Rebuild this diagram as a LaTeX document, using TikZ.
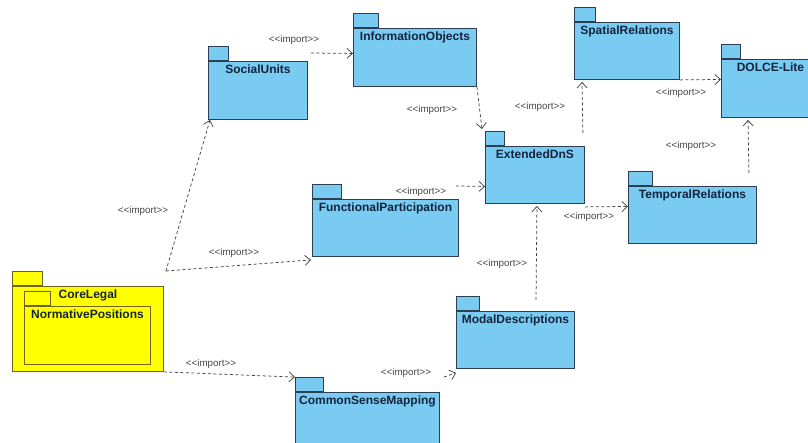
\documentclass[tikz,border=0pt]{standalone}
\usepackage{fontspec}
\setmainfont{Liberation Sans}
\usetikzlibrary{arrows.meta}
\definecolor{pkgblue}{RGB}{122,203,242}
\definecolor{pkgline}{RGB}{45,62,82}
\definecolor{pkgtext}{RGB}{20,35,60}
\definecolor{pkgyellow}{RGB}{255,255,0}
\definecolor{yelline}{RGB}{110,100,20}
\definecolor{impgray}{RGB}{70,70,70}
\newcommand\imptext{<\kern0pt<import>\kern0pt>}

\begin{document}
\begin{tikzpicture}[x=1pt,y=-1pt,
body/.style={%
draw=pkgline,
fill=pkgblue,
line width=0.9pt,
anchor=north west,
inner sep=0pt,
minimum height=58pt,
},
tab/.style={%
body,
anchor=south west,
minimum height=14pt,
},
legal/.style={%
draw=yelline,
fill=pkgyellow,
},
title/.style={%
font={\bfseries\color{pkgtext}\fontsize{12pt}{14}\selectfont},
anchor=north,
inner sep=0pt,
yshift=-3.5pt,
text height=9pt,
text depth=2.5pt,
},
imp/.style={%
font={\color{impgray}\fontsize{9.8pt}{11}\selectfont},
inner sep=1pt,
},
dep/.style={%
draw=impgray,
dash pattern=on 3pt off 2.5pt,
line width=0.75pt,
-{Straight Barb[length=5.5pt,width=10pt]},
}
]
\useasboundingbox (0,0) rectangle (808,443);
\fill[white] (0,0) rectangle (808,443);
\clip (0,0) rectangle (808,443);

%CoreLegal
\node[body,legal,minimum width=151pt,minimum height=85pt] (cl) at (12,286) {};
\node[tab,legal,minimum width=30pt] (cl-tab) at (cl.north west) {};
\node[title] (cl-t) at (cl.north) {CoreLegal};
\node[body,legal,minimum width=126pt] (np) at (24,306) {};
\node[tab,legal,minimum width=26pt] (np-tab) at (np.north west) {};
\node[title] (np-t) at (np.north) {NormativePositions};

%SocialUnits
\node[body,minimum width=99pt] (su) at (208,61) {};
\node[tab,minimum width=20pt] (su-tab) at (su.north west) {};
\node[title] (su-t) at (su.north) {SocialUnits};

%InformationObjects
\node[body,minimum width=123pt] (io) at (353,28) {};
\node[tab,minimum width=25pt] (io-tab) at (io.north west) {};
\node[title] (io-t) at (io.north) {InformationObjects};

%ExtendedDnS
\node[body,minimum width=99pt,minimum height=57pt] (ed) at (485,146) {};
\node[tab,minimum width=19pt] (ed-tab) at (ed.north west) {};
\node[title] (ed-t) at (ed.north) {ExtendedDnS};

%SpatialRelations
\node[body,minimum width=105pt,minimum height=57pt] (sr) at (574,22) {};
\node[tab,minimum width=21pt] (sr-tab) at (sr.north west) {};
\node[title] (sr-t) at (sr.north) {SpatialRelations};

%DOLCE-Lite
\node[body,minimum width=98pt] (dl) at (721,59) {};
\node[tab,minimum width=19pt] (dl-tab) at (dl.north west) {};
\node[title] (dl-t) at (dl.north) {DOLCE-Lite};

%TemporalRelations
\node[body,minimum width=128pt,minimum height=57pt] (tr) at (628,186) {};
\node[tab,minimum width=24pt] (tr-tab) at (tr.north west) {};
\node[title] (tr-t) at (tr.north) {TemporalRelations};

%FunctionalParticipation
\node[body,minimum width=146pt,minimum height=57pt] (fp) at (312,199) {};
\node[tab,minimum width=29pt] (fp-tab) at (fp.north west) {};
\node[title] (fp-t) at (fp.north) {FunctionalParticipation};

%ModalDescriptions
\node[body,minimum width=118pt,minimum height=57pt] (md) at (456,311) {};
\node[tab,minimum width=23pt] (md-tab) at (md.north west) {};
\node[title] (md-t) at (md.north) {ModalDescriptions};

%CommonSenseMapping
\node[body,minimum width=144pt] (cs) at (295,392) {};
\node[tab,minimum width=28pt] (cs-tab) at (cs.north west) {};
\node[title] (cs-t) at (cs.north) {CommonSenseMapping};

%imports
\coordinate (cl-out) at ([shift={(2pt,15pt)}]cl.north east);
\draw[dep] (cl-out) -- ([xshift=2pt]su.south west);
\draw[dep] (cl-out) -- ([shift={(-1pt,-3pt)}]fp.south west);
\draw[dep] (cl.south east) -- (cs-tab.north west);
\draw[dep] ([shift={(4pt,15pt)}]cs.north east) -- ([yshift=-4pt]md.south west);
\draw[dep] ([shift={(3pt,8pt)}]su.north east) -- ([yshift=4pt]io.west);
\draw[dep] (io.south east) -- ([shift={(-3pt,2pt)}]ed-tab.north west);
\draw[dep] ([shift={(-3pt,13pt)}]fp.north east) -- ([yshift=-11.5pt]ed.west);
\draw[dep] ([shift={(80pt,11pt)}]md.north west) -- ([shift={(2pt,-2pt)}]ed.south);
\draw[dep] ([shift={(-2pt,13pt)}]ed.north east) -- ([shift={(8pt,-2pt)}]sr.south west);
\draw[dep] ([yshift=-3pt]ed.south east) -- ([yshift=8.5pt]tr.west);
\draw[dep] (sr.south east) -- ([yshift=9pt]dl.west);
\draw[dep] ([shift={(-8pt,13pt)}]tr.north east) -- ([shift={(27pt,-2pt)}]dl.south west);

%labels
\node[imp] (i-su-io) at (294,40) {\imptext};
\node[imp] (i-io-ed) at (432,110) {\imptext};
\node[imp] (i-ed-sr) at (540,107) {\imptext};
\node[imp] (i-sr-dl) at (681,93) {\imptext};
\node[imp] (i-tr-dl) at (691,146) {\imptext};
\node[imp] (i-ed-tr) at (589,217) {\imptext};
\node[imp] (i-fp-ed) at (421,192) {\imptext};
\node[imp] (i-md-ed) at (502,264) {\imptext};
\node[imp] (i-cl-su) at (143,211) {\imptext};
\node[imp] (i-cl-fp) at (234,253) {\imptext};
\node[imp] (i-cl-cs) at (211,364) {\imptext};
\node[imp] (i-cs-md) at (406,373) {\imptext};
\end{tikzpicture}
\end{document}
